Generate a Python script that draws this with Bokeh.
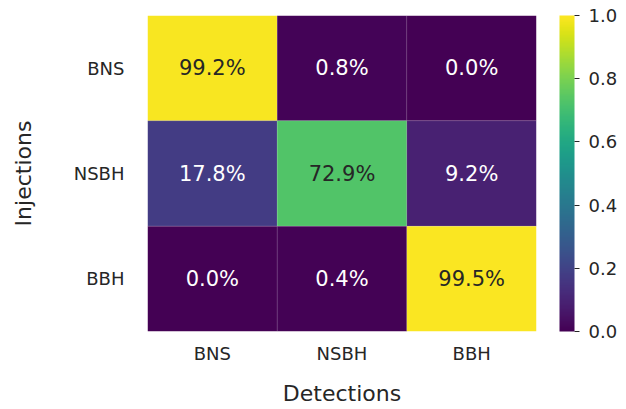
from bokeh.plotting import figure
from bokeh.models import (ColumnDataSource, LinearColorMapper, ColorBar, FixedTicker,
                          NumeralTickFormatter, FactorRange)
from bokeh.palettes import Viridis256
from bokeh.embed import file_html
from bokeh.resources import INLINE
from bokeh.core.properties import value

injections = ["BNS", "NSBH", "BBH"]
detections = ["BNS", "NSBH", "BBH"]
row_bns = [0.992, 0.008, 0.000]
row_nsbh = [0.178, 0.729, 0.092]
row_bbh = [0.000, 0.004, 0.995]
colorbar_ticks = [0.0, 0.2, 0.4, 0.6, 0.8, 1.0]

rows = {"BNS": row_bns, "NSBH": row_nsbh, "BBH": row_bbh}
xs, ys, vals, labels, tcolors = [], [], [], [], []
for inj in injections:
    for det, v in zip(detections, rows[inj]):
        xs.append(det)
        ys.append(inj)
        vals.append(v)
        labels.append(f"{v*100:.1f}%")
        tcolors.append("#262626" if v > 0.5 else "#ffffff")

src = ColumnDataSource(dict(x=xs, y=ys, v=vals, label=labels, tc=tcolors))
mapper = LinearColorMapper(palette=Viridis256, low=0.0, high=1.0)

p = figure(frame_width=389, frame_height=316, x_range=FactorRange(*detections),
           y_range=FactorRange(*injections[::-1]), output_backend="svg",
           toolbar_location=None, min_border_left=147, min_border_top=15,
           min_border_right=0, min_border_bottom=0)
p.rect(x="x", y="y", width=1, height=1, source=src,
       fill_color={"field": "v", "transform": mapper},
       line_color="white", line_alpha=0.15, line_width=0.6)
p.text(x="x", y="y", text="label", source=src, text_color="tc",
       text_align="center", text_baseline="middle",
       text_font=value("DejaVu Sans"), text_font_size="21px")

p.outline_line_color = None
p.grid.grid_line_color = None
p.background_fill_color = None
for ax in (p.xaxis, p.yaxis):
    ax.axis_line_color = None
    ax.major_tick_line_color = None
    ax.minor_tick_line_color = None
    ax.major_label_text_font = "DejaVu Sans"
    ax.major_label_text_font_size = "18px"
    ax.major_label_text_color = "#262626"
    ax.axis_label_text_font = "DejaVu Sans"
    ax.axis_label_text_font_size = "22px"
    ax.axis_label_text_font_style = "normal"
    ax.axis_label_text_color = "#262626"
p.yaxis.major_label_orientation = "horizontal"
p.yaxis.major_label_standoff = 17
p.xaxis.major_label_standoff = 5
p.yaxis.axis_label = "Injections"
p.xaxis.axis_label = "Detections"
p.yaxis.axis_label_standoff = 35
p.xaxis.axis_label_standoff = 14

cb = ColorBar(color_mapper=mapper, width=15, height=316, padding=0, margin=0,
              location=(23, 0), ticker=FixedTicker(ticks=colorbar_ticks),
              formatter=NumeralTickFormatter(format="0.0"),
              major_tick_out=5, major_tick_in=0, major_tick_line_color="#262626",
              major_label_text_font="DejaVu Sans", major_label_text_font_size="18px",
              major_label_text_color="#262626", bar_line_color=None,
              background_fill_color=None, label_standoff=9)
p.add_layout(cb, "right")

open("out.html", "w").write(file_html(p, INLINE))
